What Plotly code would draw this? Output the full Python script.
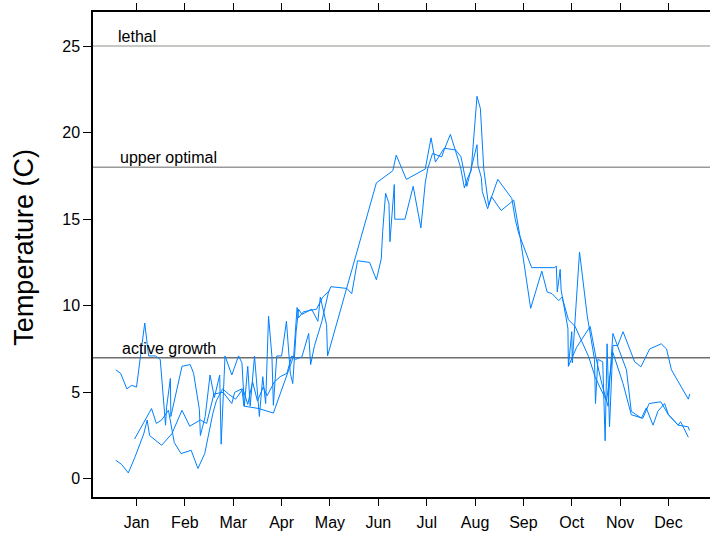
import plotly.graph_objects as go

months = ["Jan", "Feb", "Mar", "Apr", "May", "Jun", "Jul", "Aug", "Sep", "Oct", "Nov", "Dec"]
month_pos = list(range(1, 13))

# Series A (month position, temperature C)
a_x = [0.57, 0.67, 0.8, 0.9, 1.0, 1.17, 1.25, 1.39, 1.49, 1.6, 1.62, 1.7, 1.71, 1.94, 2.11, 2.18, 2.3, 2.32,
       2.42, 2.52, 2.61, 2.72, 2.75, 2.83, 2.97, 3.11, 3.18, 3.23, 3.3, 3.35, 3.44, 3.54, 3.61, 3.67, 3.73,
       3.8, 3.83, 3.9, 4.0, 4.1, 4.18, 4.23, 4.3, 4.35, 4.42, 4.62, 4.75, 4.8, 4.93, 4.95, 5.96, 6.16, 6.3,
       6.37, 6.58, 6.97, 7.09, 7.18, 7.36, 7.6, 7.71, 7.83, 7.9, 8.04, 8.06, 8.13, 8.15, 8.26, 8.34, 8.54,
       8.8, 8.93, 9.15, 9.38, 9.49, 9.59, 9.73, 9.8, 9.93, 10.07, 10.35, 10.48, 10.58, 10.72, 10.85, 11.06,
       11.23, 11.47, 11.6, 11.84, 12.0, 12.2, 12.41, 12.43]
a_y = [6.3, 6.1, 5.2, 5.4, 5.3, 9.0, 7.1, 7.1, 6.9, 3.1, 4.1, 5.8, 3.6, 6.5, 6.6, 6.1, 4.0, 2.5,
       3.6, 6.0, 4.7, 6.0, 2.0, 7.1, 6.0, 7.1, 6.7, 4.2, 6.5, 4.2, 7.1, 3.6, 5.9, 4.35, 9.4,
       7.05, 4.25, 7.1, 7.1, 9.1, 6.1, 5.5, 8.5, 9.8, 9.5, 9.8, 9.1, 10.5, 8.9, 7.1, 17.1, 17.5, 17.8,
       18.7, 17.3, 17.9, 19.7, 18.3, 19.1, 19.0, 18.6, 16.9, 17.7, 19.3, 18.1, 17.4, 16.6, 15.6, 16.3, 15.5,
       16.1, 14.0, 9.85, 12.0, 10.8, 10.7, 10.3, 10.5, 9.2, 8.8, 7.05, 5.9, 5.3, 4.5, 7.3, 5.5,
       3.7, 3.5, 4.35, 4.45, 3.7, 3.1, 3.0, 2.8]

# Series B
b_x = [0.96, 1.31, 1.41, 1.52, 1.66, 1.78, 1.92, 2.13, 2.27, 2.41, 2.58, 2.65, 2.78, 2.9, 3.05, 3.2, 3.3,
       3.4, 3.5, 3.62, 3.7, 3.85, 3.97, 4.11, 4.21, 4.29, 4.42, 4.56, 4.6, 4.68, 4.83, 4.97, 5.02, 5.35,
       5.45, 5.57, 5.82, 5.96, 6.06, 6.09, 6.15, 6.22, 6.24, 6.33, 6.34, 6.55, 6.72, 6.88, 6.97, 7.02,
       7.12, 7.31, 7.36, 7.49, 7.59, 7.7, 7.78, 7.85, 7.92, 8.04, 8.11, 8.18, 8.28, 8.47, 8.76, 8.83,
       8.9, 9.17, 9.65, 9.68, 9.7, 9.76, 9.78, 9.92, 9.93, 10.0, 10.01, 10.16, 10.32, 10.47, 10.49, 10.54,
       10.64, 10.66, 10.69, 10.73, 10.78, 10.85, 10.95, 11.06, 11.3, 11.43, 11.61, 11.85, 11.96, 12.06,
       12.41, 12.44]
b_y = [2.3, 4.06, 3.2, 3.4, 3.96, 2.1, 1.46, 1.65, 0.6, 1.46, 3.8, 4.5, 5.2, 4.9, 4.6, 5.2, 4.3,
       5.6, 4.5, 5.3, 4.8, 5.6, 5.9, 6.1, 7.1, 6.9, 7.05, 8.4, 6.6, 7.7, 9.07, 10.8, 11.1, 11.0,
       10.7, 12.6, 12.5, 11.5, 12.7, 14.3, 16.5, 15.9, 13.7, 17.0, 15.0, 15.0, 16.9, 14.5, 17.1, 17.9,
       18.8, 18.6, 19.0, 19.9, 19.0, 18.0, 16.8, 17.4, 17.8, 22.1, 21.4, 17.9, 15.8, 17.3, 16.2, 15.0,
       14.2, 12.2, 12.2, 12.3, 10.8, 12.1, 10.9, 8.7, 6.5, 8.5, 6.7, 13.1, 9.4, 6.9, 4.35, 6.9,
       6.76, 4.35, 2.2, 7.8, 3.0, 7.7, 7.7, 8.5, 6.76, 6.47, 7.5, 7.8, 7.5, 6.3,
       4.6, 4.9]

# Series C (no readings between late May and early October)
c_x = [0.57, 0.69, 0.83, 0.97, 1.15, 1.22, 1.27, 1.52, 1.73, 1.94, 2.1, 2.32, 2.45, 2.6, 2.79, 2.97,
       3.03, 3.18, 3.22, 3.53, 3.83, 4.1, 4.25, 4.32, 4.35, 4.45, 4.72, 4.85, 5.0, None,
       9.93, 10.1, 10.38, 10.5, 10.62, 10.75, 10.85, 11.13, 11.23, 11.44, 11.54, 11.68, 11.78, 11.92,
       12.0, 12.2, 12.25, 12.41]
c_y = [1.07, 0.84, 0.34, 1.27, 2.6, 3.4, 2.5, 1.94, 2.6, 3.96, 3.04, 3.4, 3.2, 4.9, 5.0, 4.35,
       5.0, 5.2, 4.2, 4.06, 3.8, 5.9, 7.1, 9.9, 9.3, 9.65, 9.8, 10.5, 10.9, None,
       6.5, 7.6, 8.8, 7.0, 5.5, 4.2, 8.4, 6.3, 3.9, 3.5, 4.1, 3.1, 3.9, 4.35,
       3.7, 3.1, 3.3, 2.4]

ref_levels = [25, 18, 7]
ref_labels = ["lethal", "upper optimal", "active growth"]
ref_colors = ["#b4b4b0", "#9a9a9a", "#6e6e6e"]
ref_label_x = [0.038, 0.040, 0.043]

fig = go.Figure()
for xs, ys in [(a_x, a_y), (b_x, b_y), (c_x, c_y)]:
    fig.add_trace(go.Scatter(x=xs, y=ys, mode="lines", line=dict(color="#0080ff", width=1),
                             connectgaps=False, showlegend=False, hoverinfo="skip"))

for lvl, lab, col, lx in zip(ref_levels, ref_labels, ref_colors, ref_label_x):
    fig.add_shape(type="line", xref="paper", x0=0, x1=1, yref="y", y0=lvl, y1=lvl,
                  line=dict(color=col, width=1.5), layer="below")
    fig.add_annotation(xref="paper", x=lx, yref="y", y=lvl, text=lab, showarrow=False,
                       xanchor="left", yanchor="bottom", yshift=-1,
                       font=dict(size=16, color="black"))

fig.add_annotation(xref="paper", x=-0.112, yref="paper", y=0.516, text="Temperature (C)",
                   textangle=-90, showarrow=False, xanchor="center", yanchor="middle",
                   font=dict(size=27, color="black"))

fig.update_layout(
    width=710, height=534,
    margin=dict(l=93, r=0, t=12, b=37),
    paper_bgcolor="white", plot_bgcolor="white",
    font=dict(family="Liberation Sans, Arial, sans-serif", size=16, color="black"),
    xaxis=dict(range=[0.1, 12.858], tickmode="array", tickvals=month_pos, ticktext=months,
               showgrid=False, zeroline=False, showline=True, linecolor="black", linewidth=1.5,
               mirror="ticks", ticks="outside", ticklen=7, tickcolor="black", tickwidth=1.2,
               ticklabelstandoff=3),
    yaxis=dict(range=[-1.05, 26.97], tickvals=[0, 5, 10, 15, 20, 25],
               showgrid=False, zeroline=False, showline=True, linecolor="black", linewidth=1.5,
               ticks="outside", ticklen=8, tickcolor="black", tickwidth=1.2),
)

fig.write_html("out.html")
